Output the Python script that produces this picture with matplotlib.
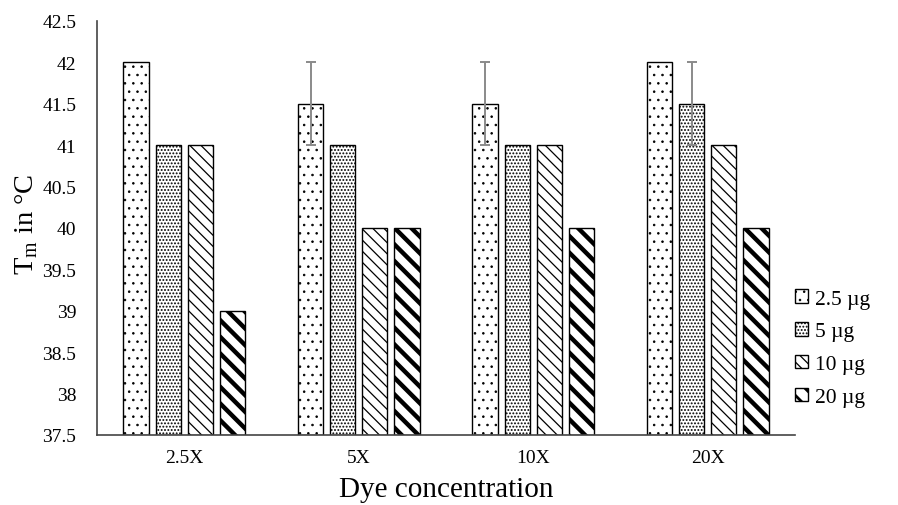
import numpy as np
import matplotlib
matplotlib.use("Agg")
import matplotlib.pyplot as plt

# data
groups = ["2.5X", "5X", "10X", "20X"]
series = ["2.5 \u00b5g", "5 \u00b5g", "10 \u00b5g", "20 \u00b5g"]
tm_25 = [42, 41.5, 41.5, 42]
tm_5 = [41, 41, 41, 41.5]
tm_10 = [41, 40, 41, 41]
tm_20 = [39, 40, 40, 40]
err_25 = [0, 0.5, 0.5, 0]
err_5 = [0, 0, 0, 0.5]
err_10 = [0, 0, 0, 0]
err_20 = [0, 0, 0, 0]

values = [tm_25, tm_5, tm_10, tm_20]
errors = [err_25, err_5, err_10, err_20]
hatches = ["..", ".....", "\\\\\\", "\\\\"]
hatch_lw = [0.6, 0.9, 0.9, 3.2]

plt.rcParams['font.family'] = ['Liberation Serif', 'DejaVu Serif']

fig = plt.figure(figsize=(8.98, 5.06), dpi=100)
ax = fig.add_axes([97 / 898, 1 - 436 / 506, (795 - 97) / 898, (436 - 22) / 506])

x = np.arange(len(groups))
w = 0.145
pitch = 0.184
for i, (vals, errs) in enumerate(zip(values, errors)):
    pos = x + (i - 1.5) * pitch
    with plt.rc_context({'hatch.linewidth': hatch_lw[i]}):
        bars = ax.bar(pos, np.array(vals) - 37.5, w, bottom=37.5, color="white",
                      edgecolor="black", hatch=hatches[i], linewidth=1.0,
                      label=series[i])
    for b in bars:
        if hasattr(b, "set_hatch_linewidth"):
            b.set_hatch_linewidth(hatch_lw[i])
    errs = np.array(errs)
    m = errs > 0
    if m.any():
        ax.errorbar(pos[m], np.array(vals)[m], yerr=errs[m], fmt="none",
                    ecolor="#8a8a8a", elinewidth=1.4, capsize=3.5, capthick=1.4)

ax.set_xlim(-0.5, len(groups) - 0.5)
ax.set_ylim(37.5, 42.5)
ax.set_yticks(np.arange(37.5, 42.51, 0.5))
ax.set_yticklabels([("%g" % v) for v in np.arange(37.5, 42.51, 0.5)])
ax.set_xticks(x)
ax.set_xticklabels(groups)
ax.tick_params(axis="both", length=0, labelsize=14)
ax.tick_params(axis="y", pad=15)
ax.tick_params(axis="x", pad=10)
ax.spines["top"].set_visible(False)
ax.spines["right"].set_visible(False)
ax.spines["left"].set_color("#444444")
ax.spines["bottom"].set_color("#444444")
ax.spines["left"].set_linewidth(1.2)
ax.spines["bottom"].set_linewidth(1.2)

ax.set_xlabel("Dye concentration", fontsize=21)
ax.set_ylabel("T$_\\mathregular{m}$ in \u00b0C", fontsize=20.5)
ax.xaxis.set_label_coords(0.5, -0.10)
ax.yaxis.set_label_coords(-0.082, 0.51)

leg = ax.legend(loc="center left", bbox_to_anchor=(0.985, 0.21), frameon=False,
                fontsize=15.5, handlelength=0.6, handleheight=0.6,
                handletextpad=0.3, labelspacing=0.62, borderpad=0)
for h, lw in zip(leg.legend_handles, hatch_lw):
    if hasattr(h, "set_hatch_linewidth"):
        h.set_hatch_linewidth(min(lw, 2.0))

fig.savefig("out.png", dpi=100)
